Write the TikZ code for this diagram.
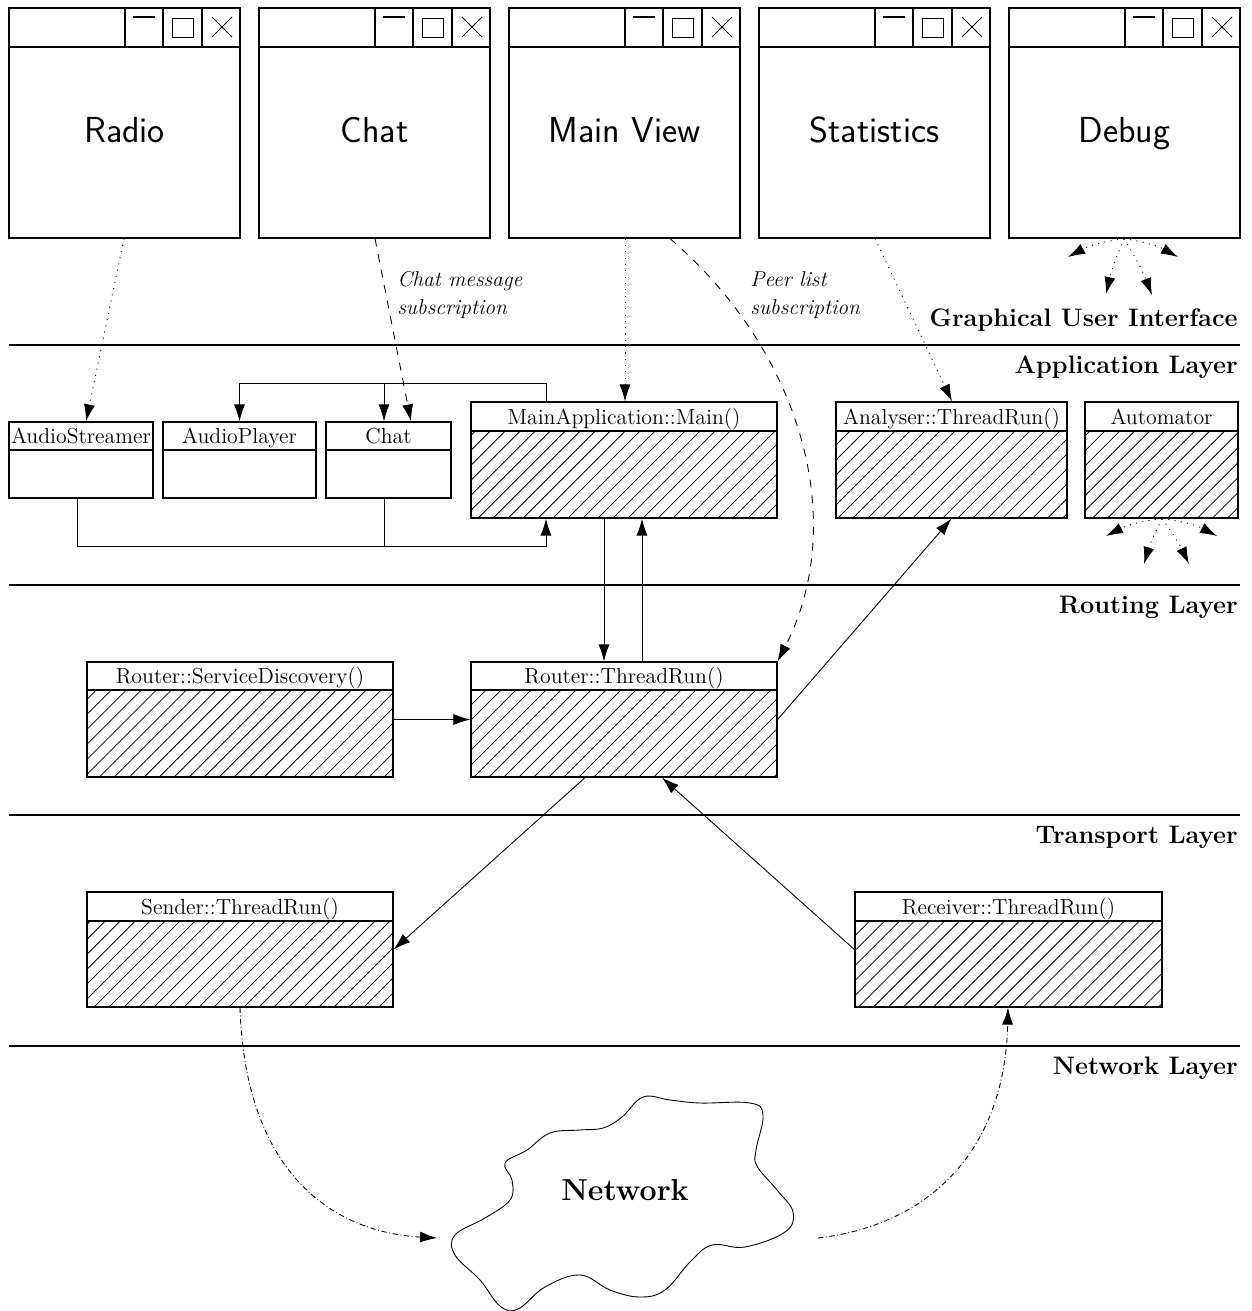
\documentclass[tikz,border=0pt]{standalone}
\usetikzlibrary{arrows.meta,patterns.meta,fit}
\tikzset{
 boxline/.style={line width=0.7pt},
 glyph/.style={line width=0.45pt},
 framebox/.style={draw, line width=0.7pt, inner sep=0pt},
 hatch/.style={pattern={Lines[angle=45,distance=0.212cm,line width=0.45pt]}},
 layerline/.style={line width=1.5pt},
 layerlbl/.style={anchor=base east, inner sep=0pt, font=\fontsize{14.4}{17}\selectfont\bfseries},
 wintext/.style={anchor=base, inner sep=0pt, font=\fontsize{20.6}{25}\selectfont\sffamily},
 clslbl/.style={anchor=base, inner sep=0pt, font=\fontsize{12.4}{15}\selectfont},
 netlbl/.style={inner sep=0pt, font=\fontsize{17.28}{21}\selectfont\bfseries},
 conn/.style={line width=0.5pt},
 arr/.style={conn, -{Latex[length=0.34cm,width=0.22cm]}},
 dotconn/.style={arr, dash pattern=on 0.6pt off 3pt},
 dashconn/.style={arr, dash pattern=on 4.5pt off 4.5pt},
 dashdotconn/.style={arr, dash pattern=on 3pt off 1.5pt on 0.5pt off 1.5pt},
 note/.style={anchor=west, align=left, inner sep=0pt, font=\fontsize{12.2}{16}\selectfont\itshape},
}
\newcommand\guiwindow[3]{%
 \node[framebox, fit={(#2,8)({#2+231},238)}] (#1) {};
 \draw[boxline] (#2,47) -- ({#2+231},47);
 \draw[boxline] ({#2+116},8) -- ({#2+116},47);
 \draw[boxline] ({#2+154},8) -- ({#2+154},47);
 \draw[boxline] ({#2+193},8) -- ({#2+193},47);
 \draw[glyph, line width=0.9pt] ({#2+124},17) -- ({#2+146},17);
 \draw[glyph] ({#2+163},18) rectangle ({#2+184},37);
 \draw[glyph] ({#2+203},17) -- ({#2+223},37) ({#2+203},37) -- ({#2+223},17);
 \node[wintext] at ({#2+115.5},143) {#3};
}
% name, x1, ytop, ydiv, x2, ybot, label
\newcommand\plainclass[7]{%
 \node[framebox, fit={(#2,#3)(#5,#6)}] (#1) {};
 \draw[boxline] (#2,#4) -- (#5,#4);
 \node[clslbl] at ({(#2+#5)/2},{#4-7}) {#7};
}
\newcommand\hatchclass[7]{%
 \fill[hatch] (#2,#4) rectangle (#5,#6);
 \plainclass{#1}{#2}{#3}{#4}{#5}{#6}{#7}
}
\begin{document}
\begin{tikzpicture}[x=0.02cm,y=-0.02cm]
\useasboundingbox (0,0) rectangle (1251,1311);

% GUI windows
\guiwindow{wradio}{9}{Radio}
\guiwindow{wchat}{259}{Chat}
\guiwindow{wmain}{509}{Main View}
\guiwindow{wstat}{759}{Statistics}
\guiwindow{wdebug}{1009}{Debug}

% layer separators and labels
\foreach \yy in {345,585,815,1046} \draw[layerline] (9,\yy) -- (1240,\yy);
\node[layerlbl] (lgui) at (1238,326) {Graphical User Interface};
\node[layerlbl] (lapp) at (1238,373) {Application Layer};
\node[layerlbl] (lrout) at (1238,613) {Routing Layer};
\node[layerlbl] (ltrans) at (1238,843) {Transport Layer};
\node[layerlbl] (lnet) at (1238,1074) {Network Layer};

% application layer
\plainclass{astream}{9}{422}{450}{153}{498}{AudioStreamer}
\plainclass{aplayer}{163}{422}{450}{316}{498}{AudioPlayer}
\plainclass{chatbox}{326}{422}{450}{451}{498}{Chat}
\hatchclass{mainapp}{471}{402}{431}{777}{518}{MainApplication::Main()}
\hatchclass{analyser}{836}{402}{431}{1067}{518}{Analyser::ThreadRun()}
\hatchclass{automator}{1085}{402}{431}{1238}{518}{Automator}

% routing layer
\hatchclass{servdisc}{87}{662}{690}{393}{777}{Router::ServiceDiscovery()}
\hatchclass{router}{471}{662}{690}{777}{777}{Router::ThreadRun()}

% transport layer
\hatchclass{sender}{87}{892}{921}{393}{1007}{Sender::ThreadRun()}
\hatchclass{receiver}{855}{892}{921}{1162}{1007}{Receiver::ThreadRun()}

% network cloud
\draw[conn] plot[smooth cycle, tension=0.65] coordinates {
 (505,1163) (527,1150) (550,1133) (580,1130) (603,1128) (622,1117) (643,1097)
 (670,1100) (700,1103) (750,1103) (763,1115) (756,1150) (757,1166) (777,1190)
 (793,1212) (785,1232) (745,1247) (712,1245) (690,1262) (665,1290) (640,1297)
 (610,1290) (580,1275) (545,1287) (518,1309) (500,1306) (480,1280) (455,1255)
 (455,1235) (485,1218) (510,1200) (512,1180)};
\node[netlbl] (net) at (625,1190) {Network};
\coordinate (netin) at (437,1238);
\coordinate (netout) at (818,1238);

% GUI -> application connectors
\draw[dotconn] (wradio.south -| 124,0) -- (astream.north -| 86,0);
\draw[dashconn] (wchat.south -| 375,0) -- (chatbox.north -| 411,0);
\node[note] (nchat) at (397,295) {Chat message\\subscription};
\draw[dotconn] (wmain.south -| 625,0) -- (mainapp.north -| 625,0);
\draw[dashconn] (wmain.south -| 670,0) .. controls (800,350) and (850,520) .. (router.north east);
\node[note] (npeer) at (750,295) {Peer list\\subscription};
\draw[dotconn] (wstat.south -| 875,0) -- (analyser.north -| 952,0);

% debug window fan-out
\coordinate (dbg1) at (1068,257);
\coordinate (dbg2) at (1106,294);
\coordinate (dbg3) at (1152,295);
\coordinate (dbg4) at (1178,257);
\draw[dotconn] (wdebug.south -| 1124,0) to[bend right=10] (dbg1);
\draw[dotconn] (wdebug.south -| 1124,0) to[bend right=5] (dbg2);
\draw[dotconn] (wdebug.south -| 1124,0) to[bend left=5] (dbg3);
\draw[dotconn] (wdebug.south -| 1124,0) to[bend left=10] (dbg4);

% automator fan-out
\coordinate (aut1) at (1106,536);
\coordinate (aut2) at (1144,564);
\coordinate (aut3) at (1189,564);
\coordinate (aut4) at (1217,536);
\draw[dotconn] (automator.south -| 1162,0) to[bend right=10] (aut1);
\draw[dotconn] (automator.south -| 1162,0) to[bend right=5] (aut2);
\draw[dotconn] (automator.south -| 1162,0) to[bend left=5] (aut3);
\draw[dotconn] (automator.south -| 1162,0) to[bend left=10] (aut4);

% application layer internal connectors
\draw[arr] (mainapp.north -| 546,0) -- (546,383) -| (aplayer.north);
\draw[arr] (384,383) -- (chatbox.north -| 384,0);
\draw[arr] (astream.south -| 77,0) |- (546,546) -- (mainapp.south -| 546,0);
\draw[conn] (chatbox.south -| 384,0) -- (384,546);

% application <-> routing
\draw[arr] (mainapp.south -| 604,0) -- (router.north -| 604,0);
\draw[arr] (router.north -| 642,0) -- (mainapp.south -| 642,0);
\draw[arr] (router.east) -- (analyser.south);
\draw[arr] (servdisc.east) -- (router.west);

% routing <-> transport
\draw[arr] (router.south -| 585,0) -- (sender.east);
\draw[arr] (receiver.west) -- (router.south -| 662,0);

% transport <-> network
\draw[dashdotconn] (sender.south -| 240,0) .. controls (245,1170) and (330,1232) .. (netin);
\draw[dashdotconn] (netout) .. controls (930,1225) and (1005,1150) .. (receiver.south -| 1008,0);
\end{tikzpicture}
\end{document}
